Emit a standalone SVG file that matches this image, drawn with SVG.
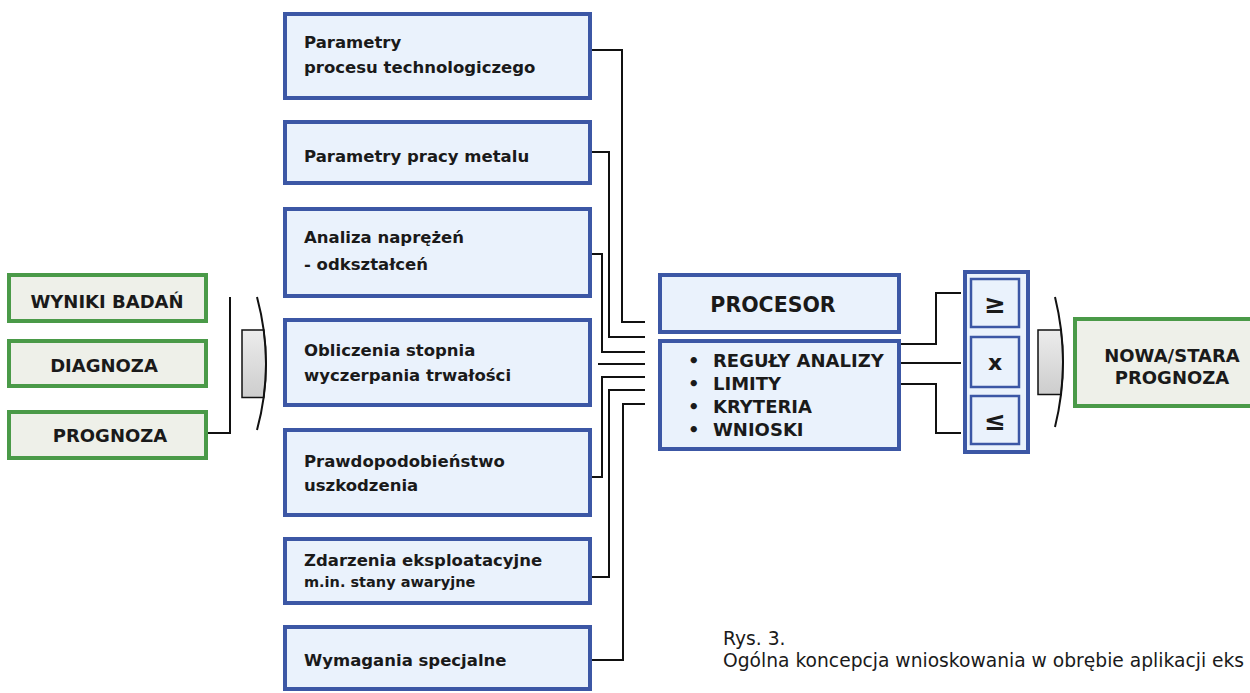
<svg xmlns="http://www.w3.org/2000/svg" width="1250" height="693" viewBox="0 0 1250 693">
<style>
.g{fill:#eef0e9;stroke:#4a9a48;stroke-width:4}
.b{fill:#eaf2fc;stroke:#3c57a5;stroke-width:4}
.bi{fill:#eaf2fc;stroke:#3c57a5;stroke-width:2.5}
.t{font-family:"DejaVu Sans","Liberation Sans",sans-serif;font-weight:bold;fill:#1a1a1a}
.m{font-size:16.5px}
.c{text-anchor:middle}
.ln{fill:none;stroke:#111;stroke-width:2}
.ar{fill:url(#gr);stroke:#111;stroke-width:1.5}
.cap{font-family:"DejaVu Sans","Liberation Sans",sans-serif;font-size:18.7px;fill:#1a1a1a}
</style>
<defs>
<linearGradient id="gr" x1="0" y1="0" x2="0" y2="1">
<stop offset="0" stop-color="#ececec"/>
<stop offset="1" stop-color="#cdcdcd"/>
</linearGradient>
</defs>
<rect width="1250" height="693" fill="#ffffff"/>

<g id="connectors">
<polyline class="ln" points="208,433 230,433 230,297"/>
<polyline class="ln" points="592,50 622,50 622,322 645,322"/>
<polyline class="ln" points="592,152 609,152 609,337 645,337"/>
<polyline class="ln" points="592,254 602,254 602,352 645,352"/>
<polyline class="ln" points="598,364 645,364"/>
<polyline class="ln" points="592,477 602,477 602,377 645,377"/>
<polyline class="ln" points="592,577 609,577 609,390 645,390"/>
<polyline class="ln" points="592,660 623,660 623,404 645,404"/>
<polyline class="ln" points="901,344 936,344 936,293 961,293"/>
<polyline class="ln" points="901,363 961,363"/>
<polyline class="ln" points="901,384 936,384 936,433 961,433"/>
</g>

<g id="arrow-left">
<path class="ar" d="M242,330 L263.8,330 Q268.25,364 263.8,397.5 L242,397.5 Z"/>
<path class="ln" d="M257,297 Q275,364 257,430" stroke-width="1.8"/>
</g>
<g id="arrow-right">
<path class="ar" d="M1038,330 L1061,330 Q1065,362 1061,394.5 L1038,394.5 Z"/>
<path class="ln" d="M1055,297 Q1071,362 1055,427" stroke-width="1.8"/>
</g>

<g id="wyniki">
<rect class="g" x="9" y="275" width="197" height="46"/>
<text class="t c" x="107" y="308" font-size="18">WYNIKI BADAŃ</text>
</g>
<g id="diagnoza">
<rect class="g" x="9" y="341" width="197" height="45"/>
<text class="t c" x="104" y="372" font-size="18">DIAGNOZA</text>
</g>
<g id="prognoza">
<rect class="g" x="9" y="412" width="197" height="46"/>
<text class="t c" x="110" y="442" font-size="18">PROGNOZA</text>
</g>

<g id="parametry-procesu">
<rect class="b" x="285" y="14" width="305" height="84"/>
<text class="t m" x="304" y="48">Parametry</text>
<text class="t m" x="304" y="73">procesu technologiczego</text>
</g>
<g id="parametry-pracy">
<rect class="b" x="285" y="122" width="305" height="61"/>
<text class="t m" x="304" y="162">Parametry pracy metalu</text>
</g>
<g id="analiza">
<rect class="b" x="285" y="209" width="305" height="87"/>
<text class="t m" x="304" y="243">Analiza naprężeń</text>
<text class="t m" x="304" y="270">- odkształceń</text>
</g>
<g id="obliczenia">
<rect class="b" x="285" y="320" width="305" height="85"/>
<text class="t m" x="304" y="356">Obliczenia stopnia</text>
<text class="t m" x="304" y="381">wyczerpania trwałości</text>
</g>
<g id="prawdopodobienstwo">
<rect class="b" x="285" y="430" width="305" height="85"/>
<text class="t m" x="304" y="467">Prawdopodobieństwo</text>
<text class="t m" x="304" y="491">uszkodzenia</text>
</g>
<g id="zdarzenia">
<rect class="b" x="285" y="539" width="305" height="64"/>
<text class="t m" x="304" y="566">Zdarzenia eksploatacyjne</text>
<text class="t" x="304" y="587" font-size="14.5">m.in. stany awaryjne</text>
</g>
<g id="wymagania">
<rect class="b" x="285" y="627" width="305" height="62"/>
<text class="t m" x="304" y="666">Wymagania specjalne</text>
</g>

<g id="procesor">
<rect class="b" x="660" y="275" width="239" height="57"/>
<text class="t c" x="773" y="312" font-size="20.5">PROCESOR</text>
</g>
<g id="reguly">
<rect class="b" x="660" y="341" width="239" height="108"/>
<g class="t" font-size="18">
<text x="688" y="367">•</text><text x="713" y="367">REGUŁY ANALIZY</text>
<text x="688" y="390">•</text><text x="713" y="390">LIMITY</text>
<text x="688" y="413">•</text><text x="713" y="413">KRYTERIA</text>
<text x="688" y="436">•</text><text x="713" y="436">WNIOSKI</text>
</g>
</g>

<g id="porownanie">
<rect class="b" x="965" y="272" width="63" height="180"/>
<rect class="bi" x="971" y="279" width="48" height="48"/>
<rect class="bi" x="971" y="337" width="48" height="50"/>
<rect class="bi" x="971" y="396" width="48" height="48"/>
<text class="t c" x="995" y="313" font-size="26">≥</text>
<text class="t c" x="995" y="370" font-size="22">x</text>
<text class="t c" x="995" y="430" font-size="26">≤</text>
</g>

<g id="nowa-stara">
<rect class="g" x="1075" y="319" width="180" height="87"/>
<text class="t c" x="1172" y="362" font-size="18">NOWA/STARA</text>
<text class="t c" x="1172" y="384" font-size="18">PROGNOZA</text>
</g>

<g id="caption">
<text class="cap" x="723" y="645">Rys. 3.</text>
<text class="cap" x="723" y="667">Ogólna koncepcja wnioskowania w obrębie aplikacji eks</text>
</g>
</svg>
